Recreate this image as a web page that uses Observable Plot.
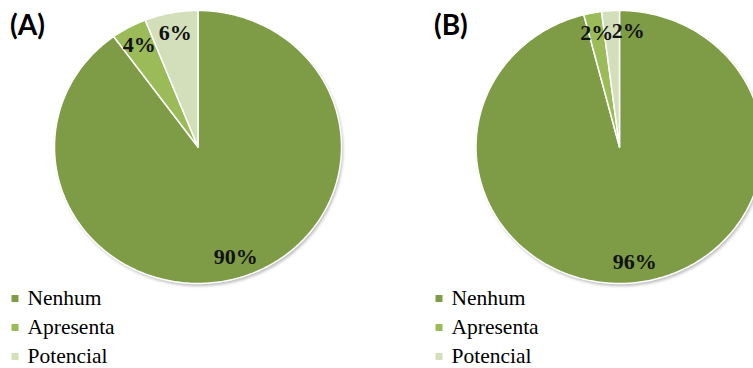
<!DOCTYPE html>
<html><head><meta charset="utf-8">
<script src="https://cdn.jsdelivr.net/npm/d3@7"></script>
<script src="https://cdn.jsdelivr.net/npm/@observablehq/plot@0.6"></script>
<style>
html,body{margin:0;padding:0;background:#fff;}
#chart{position:relative;width:753px;height:368px;overflow:hidden;}
.panel{position:absolute;top:0;height:368px;}
.panel svg{position:absolute;left:0;top:0;}
.tag{position:absolute;top:10px;font-family:Lato, sans-serif;font-weight:700;font-size:28px;line-height:28px;color:#000;}
</style></head><body><div id="chart"></div>
<script>
const categories = ["Nenhum", "Apresenta", "Potencial"];
const panelTags = ["(A)", "(B)"];
const valuesA = [90, 4, 6];
const valuesB = [96, 2, 2];
const labelsA = ["90%", "4%", "6%"];
const labelsB = ["96%", "2%", "2%"];
const palette = ["#7e9c45", "#9bbb59", "#d2dfba"];

function sliceData(values, labels) {
  const arcs = d3.pie().sort(null)(values);
  const outline = [], text = [];
  arcs.forEach((a, i) => {
    const n = Math.max(2, Math.ceil((a.endAngle - a.startAngle) / (Math.PI / 180)));
    outline.push({cat: categories[i], x: 0, y: 0});
    for (let k = 0; k <= n; k++) {
      const t = a.startAngle + (a.endAngle - a.startAngle) * k / n;
      outline.push({cat: categories[i], x: Math.sin(t), y: Math.cos(t)});
    }
    const m = (a.startAngle + a.endAngle) / 2;
    text.push({cat: categories[i], label: labels[i], x: 0.85 * Math.sin(m), y: 0.85 * Math.cos(m)});
  });
  return {outline, text};
}

function pie(values, labels, width, cx, startCat) {
  const {outline, text} = sliceData(values, labels);
  const textOpts = {x: "x", y: "y", text: "label", fontFamily: "Liberation Serif", fontWeight: "bold", fontSize: 22, fill: "#111"};
  return Plot.plot({
    width, height: 368, margin: 0,
    x: {domain: [-1, 1], range: [cx - 143.5, cx + 143.5], axis: null},
    y: {domain: [-1, 1], range: [283, 10], axis: null},
    color: {domain: categories, range: palette},
    style: {background: "transparent", overflow: "hidden"},
    marks: [
      Plot.line(outline, {x: "x", y: "y", z: "cat", fill: "#bdbdbd", stroke: "none", curve: "linear-closed", dx: 1.5, dy: 2.5, imageFilter: "blur(1.5px)"}),
      Plot.line(outline, {x: "x", y: "y", z: "cat", fill: "cat", stroke: "white", strokeWidth: 1.5, strokeLinejoin: "round", curve: "linear-closed"}),
      Plot.text(text.filter(d => d.cat !== startCat), {...textOpts, textAnchor: "middle"}),
      Plot.text(text.filter(d => d.cat === startCat), {...textOpts, textAnchor: "start"})
    ]
  });
}

function legend() {
  return Plot.plot({
    width: 160, height: 368, margin: 0,
    y: {type: "point", domain: categories, range: [297, 356], padding: 0, axis: null},
    color: {domain: categories, range: palette},
    style: {background: "transparent"},
    marks: [
      Plot.dot(categories, {y: d => d, fill: d => d, symbol: "square", r: 3.95, frameAnchor: "left", dx: 14.5}),
      Plot.text(categories, {y: d => d, text: d => d, frameAnchor: "left", textAnchor: "start", dx: 27, fontFamily: "Liberation Serif", fontSize: 21.5, fill: "#000"})
    ]
  });
}

const chart = document.getElementById("chart");
const specs = [
  {left: 0, width: 420, cx: 197.5, values: valuesA, labels: labelsA, startCat: null, tagLeft: 10, legendLeft: 0},
  {left: 420, width: 333, cx: 199, values: valuesB, labels: labelsB, startCat: "Potencial", tagLeft: 434, legendLeft: 424}
];
specs.forEach((s, i) => {
  const panel = document.createElement("div");
  panel.className = "panel";
  panel.style.left = s.left + "px";
  panel.style.width = s.width + "px";
  panel.appendChild(pie(s.values, s.labels, s.width, s.cx, s.startCat));
  chart.appendChild(panel);

  const leg = document.createElement("div");
  leg.className = "panel";
  leg.style.left = s.legendLeft + "px";
  leg.style.width = "160px";
  leg.appendChild(legend());
  chart.appendChild(leg);

  const tag = document.createElement("div");
  tag.className = "tag";
  tag.style.left = s.tagLeft + "px";
  tag.textContent = panelTags[i];
  chart.appendChild(tag);
});
</script></body></html>
